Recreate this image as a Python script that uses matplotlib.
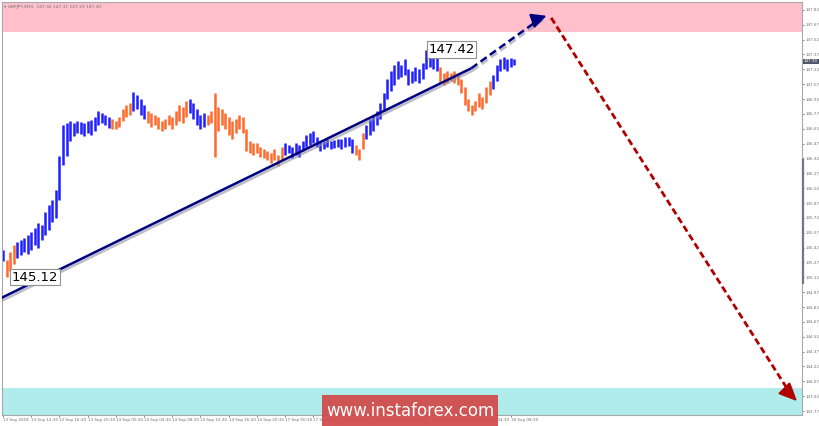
import matplotlib
matplotlib.use("Agg")
import matplotlib.pyplot as plt
import matplotlib.patheffects as pe
from matplotlib import patches as mpatches
import numpy as np

# GBPJPY M15 bars, one entry per plotted bar (low / high)
lows = [145.28, 145.12, 145.18, 145.25, 145.32, 145.35, 145.38, 145.36,
        145.40, 145.45, 145.42, 145.50, 145.55, 145.60, 145.68, 145.72,
        145.90, 146.25, 146.35, 146.50, 146.55, 146.58, 146.57, 146.55,
        146.58, 146.56, 146.60, 146.66, 146.68, 146.66, 146.63, 146.62,
        146.62, 146.64, 146.70, 146.74, 146.76, 146.80, 146.82, 146.76,
        146.72, 146.68, 146.64, 146.66, 146.62, 146.60, 146.62, 146.66,
        146.62, 146.66, 146.70, 146.68, 146.74, 146.78, 146.72, 146.66,
        146.62, 146.64, 146.66, 146.68, 146.34, 146.60, 146.66, 146.62,
        146.56, 146.52, 146.58, 146.62, 146.58, 146.40, 146.38, 146.36,
        146.38, 146.34, 146.32, 146.30, 146.27, 146.30, 146.24, 146.30,
        146.36, 146.38, 146.32, 146.36, 146.34, 146.40, 146.44, 146.46,
        146.48, 146.44, 146.40, 146.42, 146.44, 146.42, 146.43, 146.44,
        146.42, 146.44, 146.45, 146.38, 146.36, 146.30, 146.42, 146.52,
        146.56, 146.60, 146.66, 146.72, 146.80, 146.92, 147.00, 147.06,
        147.12, 147.14, 147.16, 147.06, 147.08, 147.10, 147.08, 147.12,
        147.22, 147.24, 147.22, 147.20, 147.08, 147.06, 147.08, 147.10,
        147.08, 147.06, 146.98, 146.86, 146.80, 146.76, 146.80, 146.84,
        146.82, 146.88, 146.96, 147.02, 147.10, 147.20, 147.22, 147.20,
        147.24, 147.26]
highs = [145.40, 145.30, 145.38, 145.45, 145.48, 145.50, 145.52, 145.55,
         145.58, 145.62, 145.67, 145.65, 145.78, 145.85, 145.90, 146.00,
         146.35, 146.66, 146.68, 146.70, 146.68, 146.70, 146.69, 146.68,
         146.70, 146.71, 146.74, 146.80, 146.78, 146.76, 146.74, 146.72,
         146.70, 146.74, 146.82, 146.86, 146.88, 146.99, 146.96, 146.92,
         146.86, 146.80, 146.78, 146.76, 146.74, 146.70, 146.72, 146.76,
         146.74, 146.80, 146.86, 146.84, 146.90, 146.92, 146.88, 146.82,
         146.76, 146.78, 146.76, 146.80, 146.98, 146.84, 146.82, 146.78,
         146.74, 146.70, 146.72, 146.76, 146.74, 146.62, 146.50, 146.48,
         146.48, 146.44, 146.42, 146.40, 146.38, 146.42, 146.36, 146.44,
         146.48, 146.46, 146.44, 146.48, 146.46, 146.50, 146.56, 146.58,
         146.60, 146.54, 146.50, 146.50, 146.52, 146.50, 146.51, 146.52,
         146.52, 146.54, 146.54, 146.52, 146.46, 146.42, 146.58, 146.66,
         146.72, 146.76, 146.80, 146.88, 146.98, 147.12, 147.20, 147.26,
         147.30, 147.26, 147.32, 147.22, 147.20, 147.24, 147.22, 147.28,
         147.42, 147.38, 147.36, 147.34, 147.24, 147.18, 147.20, 147.18,
         147.20, 147.18, 147.12, 147.04, 146.92, 146.86, 146.90, 146.98,
         146.94, 147.04, 147.10, 147.16, 147.26, 147.32, 147.34, 147.32,
         147.33, 147.32]
# wave colouring: (colour, number of bars)
color_runs = [("b", 1), ("o", 3), ("b", 27), ("o", 6), ("b", 4), ("o", 12),
              ("b", 5), ("o", 22), ("b", 20), ("o", 3), ("b", 21), ("o", 15),
              ("b", 7)]

time_labels = ["13 Sep 2018", "13 Sep 12:30", "13 Sep 16:30", "13 Sep 20:30",
               "14 Sep 00:30", "14 Sep 04:30", "14 Sep 08:30", "14 Sep 12:30",
               "14 Sep 16:30", "14 Sep 20:30", "17 Sep 00:30", "17 Sep 04:30",
               "17 Sep 08:30", "17 Sep 12:30", "17 Sep 16:30", "17 Sep 20:30",
               "18 Sep 00:30", "18 Sep 04:30", "18 Sep 08:30"]

# zones and wave markup
resist_zone = (147.60, 147.90)
support_zone = (143.73, 144.00)
wave_low = (2.5, 145.12)
wave_high = (120.6, 147.42)
trend_start = (-0.6, 144.91)
trend_solid_end = (132.8, 147.23)
trend_tip = (154.9, 147.77)
fall_start = (155.5, 147.74)
fall_tip = (225.8, 143.85)
last_price = 147.30

palette = {"b": "#1f1fff", "o": "#ff6a2c"}
colors = []
for c, n in color_runs:
    colors += [palette[c]] * n

fig = plt.figure(figsize=(8.2, 4.26), dpi=100)
ax = fig.add_axes([2 / 820, 11 / 426, 800 / 820, 413 / 426])
ax.set_xlim(-0.3, 226.65)
ax.set_ylim(143.73, 147.90)

ax.axhspan(*resist_zone, color="#ffc0cb", lw=0, zorder=0)
ax.axhspan(*support_zone, color="#b0ecec", lw=0, zorder=0)

x = np.arange(len(lows))
ax.vlines(x, lows, highs, colors=colors, linewidth=1.8, zorder=2)

# trend line with shadow
shadow = [pe.SimpleLineShadow(offset=(0.8, -1.8), shadow_color="#9090a0", alpha=0.6), pe.Normal()]
ax.plot([trend_start[0], trend_solid_end[0]], [trend_start[1], trend_solid_end[1]],
        color="#000080", lw=1.8, zorder=3, path_effects=shadow, solid_capstyle="butt")
ax.plot([trend_solid_end[0], trend_tip[0] - 2], [trend_solid_end[1], trend_tip[1] - 0.025],
        color="#000080", lw=1.8, ls=(0, (3, 1.6)), zorder=3, path_effects=shadow)
ax.annotate("", xy=trend_tip, xytext=(trend_tip[0] - 4, trend_tip[1] - 0.05),
            arrowprops=dict(arrowstyle="-|>,head_length=0.9,head_width=0.45",
                            color="#000080", lw=1.5), zorder=4)

# expected decline
ax.plot([fall_start[0], fall_tip[0] - 2], [fall_start[1], fall_tip[1] + 0.07],
        color="#b00000", lw=2.0, ls=(0, (2.4, 1.3)), zorder=3)
ax.annotate("", xy=fall_tip, xytext=(fall_tip[0] - 2.5, fall_tip[1] + 0.09),
            arrowprops=dict(arrowstyle="-|>,head_length=1.1,head_width=0.5",
                            color="#b00000", lw=1.5), zorder=4)

box = dict(boxstyle="square,pad=0.12", facecolor="white", edgecolor="#909090", lw=0.8)
for px, py in (wave_low, wave_high):
    ax.text(px, py, f"{py:.2f}", fontsize=9.5, ha="left", va="center",
            color="black", bbox=box, zorder=5)

# axes styling like the terminal
for s in ax.spines.values():
    s.set_color("#a8a8a8")
    s.set_linewidth(0.8)
ax.yaxis.tick_right()
yt = np.round(np.arange(143.77, 147.83, 0.15), 2)
ax.set_yticks(yt)
ax.set_yticklabels([f"{v:.2f}" for v in yt])
ax.set_xticks(np.arange(len(time_labels)) * 8)
ax.set_xticklabels(time_labels, ha="left")
ax.tick_params(axis="both", labelsize=3.0, colors="#707070", length=1.5, width=0.6, pad=0.8)
ax.tick_params(axis="x", pad=1)
ax.plot([1.0015, 1.0015], [145.06, 146.30], transform=ax.get_yaxis_transform(),
        color="#707888", lw=1.6, clip_on=False, zorder=5)
ax.text(1.002, last_price, f"{last_price:.2f}", transform=ax.get_yaxis_transform(),
        fontsize=3.0, color="white", ha="left", va="center",
        bbox=dict(boxstyle="square,pad=0.2", facecolor="#4f5868", edgecolor="none"))

fig.text(0.005, 0.988, "\u25be GBPJPY,M15  147.30 147.31 147.29 147.30",
         fontsize=3.2, color="#707070", ha="left", va="top")

fig.patches.append(mpatches.Rectangle((322 / 820, 0), 176 / 820, 31 / 426,
                                      transform=fig.transFigure, facecolor="#d24848",
                                      edgecolor="none", alpha=0.92, zorder=10))
fig.text(410 / 820, 15 / 426, "www.instaforex.com", fontsize=12, color="white",
         ha="center", va="center", zorder=11)

fig.savefig("out.png", dpi=100)
